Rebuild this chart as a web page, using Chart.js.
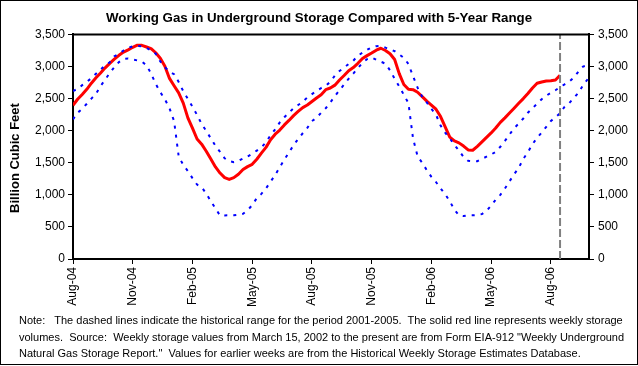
<!DOCTYPE html>
<html><head><meta charset="utf-8">
<script src="https://cdn.jsdelivr.net/npm/chart.js@4/dist/chart.umd.min.js"></script>
<style>
html,body{margin:0;padding:0;background:#fff;}
#wrap{position:relative;width:638px;height:366px;overflow:hidden;background:#fff;}
#c{position:absolute;left:0;top:0;}
#frame{position:absolute;left:0;top:0;width:638px;height:365px;box-sizing:border-box;border:1px solid #000;pointer-events:none;}
#note{position:absolute;left:19px;top:312px;font:11px 'Liberation Sans',Arial,sans-serif;line-height:16.5px;white-space:pre;color:#000;}
</style></head><body>
<div id="wrap">
<canvas id="c" width="638" height="366"></canvas>
<div id="note">Note:   The dashed lines indicate the historical range for the period 2001-2005.  The solid red line represents weekly storage
volumes.  Source:  Weekly storage values from March 15, 2002 to the present are from Form EIA-912 "Weekly Underground
Natural Gas Storage Report."  Values for earlier weeks are from the Historical Weekly Storage Estimates Database.</div>
<div id="frame"></div>
</div>
<script>
// ---- data (weekly, week 0 = first week of Aug 2004) ----
const chartTitle = "Working Gas in Underground Storage Compared with 5-Year Range";
const yTitle = "Billion Cubic Feet";
const tickWeeks  = [0, 13, 26, 39, 52, 65, 78, 91, 104];
const tickLabels = ["Aug-04","Nov-04","Feb-05","May-05","Aug-05","Nov-05","Feb-06","May-06","Aug-06"];
const currentWeek = 106;

// weekly storage (Bcf), weeks 0..106
const storage = [
 2395,2490,2565,2645,2740,2825,2900,2980,3050,3115,
 3175,3225,3260,3300,3333,3330,3305,3280,3215,3130,
 3005,2815,2700,2590,2430,2200,2040,1870,1790,1680,
 1560,1435,1340,1268,1240,1268,1322,1395,1440,1475,
 1555,1650,1740,1860,1945,2010,2090,2160,2235,2300,
 2360,2400,2455,2510,2560,2640,2665,2710,2790,2860,
 2935,2984,3050,3125,3170,3210,3255,3285,3250,3200,
 3110,2890,2720,2645,2640,2600,2530,2460,2400,2335,
 2220,2060,1900,1840,1810,1760,1700,1695,1755,1825,
 1895,1965,2042,2130,2200,2275,2350,2427,2500,2580,
 2665,2740,2760,2775,2780,2790,2864
];
// 5-year maximum, weeks 0..112
const rangeMax = [
 2619,2650,2710,2760,2820,2888,2955,3020,3065,3160,
 3200,3250,3290,3315,3320,3315,3290,3250,3200,3080,
 2990,2920,2880,2760,2615,2495,2375,2245,2105,1995,
 1880,1765,1670,1570,1525,1510,1530,1565,1600,1640,
 1690,1740,1820,1930,2020,2130,2210,2280,2350,2400,
 2450,2520,2570,2620,2665,2700,2760,2860,2930,2984,
 3040,3090,3170,3215,3260,3300,3318,3320,3295,3265,
 3240,3190,3135,3040,2850,2670,2530,2440,2340,2250,
 2080,1970,1880,1780,1690,1590,1530,1525,1525,1560,
 1595,1630,1670,1750,1840,1940,2040,2110,2190,2280,
 2350,2420,2490,2545,2590,2630,2680,2723,2765,2830,
 2920,3000,3020
];
// 5-year minimum, weeks 0..112
const rangeMin = [
 2177,2280,2340,2420,2500,2575,2697,2795,2900,2990,
 3070,3118,3125,3110,3095,3075,3020,2890,2730,2600,
 2490,2350,2150,1600,1465,1370,1260,1160,1120,1020,
 900,790,677,680,681,681,690,705,760,840,
 950,1015,1100,1205,1310,1430,1550,1660,1775,1870,
 1960,2045,2150,2200,2280,2350,2440,2540,2630,2720,
 2810,2890,2975,3060,3115,3140,3105,3075,3045,2940,
 2810,2690,2560,2430,1880,1600,1500,1385,1280,1200,
 1100,1010,900,770,680,670,681,681,685,700,
 750,835,925,1000,1100,1210,1320,1420,1560,1665,
 1790,1890,1970,2060,2150,2210,2270,2375,2430,2510,
 2590,2710,2802
];
const yMin = 0, yMax = 3500, yStep = 500;

// ---- chart ----
const FONT = "'Liberation Sans', Arial, sans-serif";
const toXY = arr => arr.map((v, i) => ({x: i, y: v}));

const extras = {
  id: 'extras',
  afterDraw(chart) {
    const {ctx, chartArea: a} = chart;
    ctx.save();
    ctx.strokeStyle = '#000';
    ctx.lineWidth = 2;
    ctx.beginPath();
    ctx.moveTo(a.left - 1, a.top);
    ctx.lineTo(a.right + 1, a.top);
    ctx.stroke();
    ctx.font = 'bold 13px ' + FONT;
    ctx.fillStyle = '#000';
    ctx.textAlign = 'center';
    ctx.textBaseline = 'middle';
    ctx.translate(15, 158);
    ctx.rotate(-Math.PI / 2);
    ctx.fillText(yTitle, 0, 0);
    ctx.restore();
  }
};

const tickGrid = {display: true, drawOnChartArea: false, drawTicks: true, tickLength: 5, color: '#000', lineWidth: 1};
const axisBorder = {display: true, color: '#000', width: 2};
const tickFont = {family: FONT, size: 12};

new Chart(document.getElementById('c'), {
  type: 'line',
  data: {
    datasets: [
      {label: 'current', data: [{x: currentWeek, y: yMin}, {x: currentWeek, y: yMax}],
       borderColor: '#808080', borderWidth: 2, borderDash: [8, 3], pointRadius: 0, yAxisID: 'y'},
      {label: 'max', data: toXY(rangeMax), borderColor: '#0000FF', borderWidth: 2,
       borderDash: [3, 6], pointRadius: 0, yAxisID: 'y'},
      {label: 'min', data: toXY(rangeMin), borderColor: '#0000FF', borderWidth: 2,
       borderDash: [3, 6], pointRadius: 0, yAxisID: 'y'},
      {label: 'storage', data: toXY(storage), borderColor: '#FF0000', borderWidth: 3,
       pointRadius: 0, yAxisID: 'y', borderJoinStyle: 'round'}
    ]
  },
  options: {
    responsive: false,
    animation: false,
    events: [],
    devicePixelRatio: 1,
    layout: {padding: 0},
    plugins: {
      legend: {display: false},
      tooltip: {enabled: false},
      title: {display: true, text: chartTitle, color: '#000',
              font: {family: FONT, size: 13.3, weight: 'bold'},
              padding: {top: 10, bottom: 8.5}}
    },
    scales: {
      x: {
        type: 'linear', position: 'bottom', min: 0, max: 112.3,
        afterBuildTicks: s => { s.ticks = tickWeeks.map(v => ({value: v})); },
        afterFit: s => { s.height = 107; },
        ticks: {autoSkip: false, minRotation: 90, maxRotation: 90, padding: 3, color: '#000', font: tickFont,
                callback: v => tickLabels[tickWeeks.indexOf(v)]},
        grid: tickGrid, border: axisBorder
      },
      y: {
        type: 'linear', position: 'left', min: yMin, max: yMax,
        afterFit: s => { s.width = 73; },
        ticks: {stepSize: yStep, padding: 3, color: '#000', font: tickFont},
        grid: tickGrid, border: axisBorder
      },
      y2: {
        type: 'linear', position: 'right', min: yMin, max: yMax,
        afterFit: s => { s.width = 49; },
        ticks: {stepSize: yStep, padding: 4, color: '#000', font: tickFont},
        grid: tickGrid, border: axisBorder
      }
    }
  },
  plugins: [extras]
});
</script>
</body></html>
